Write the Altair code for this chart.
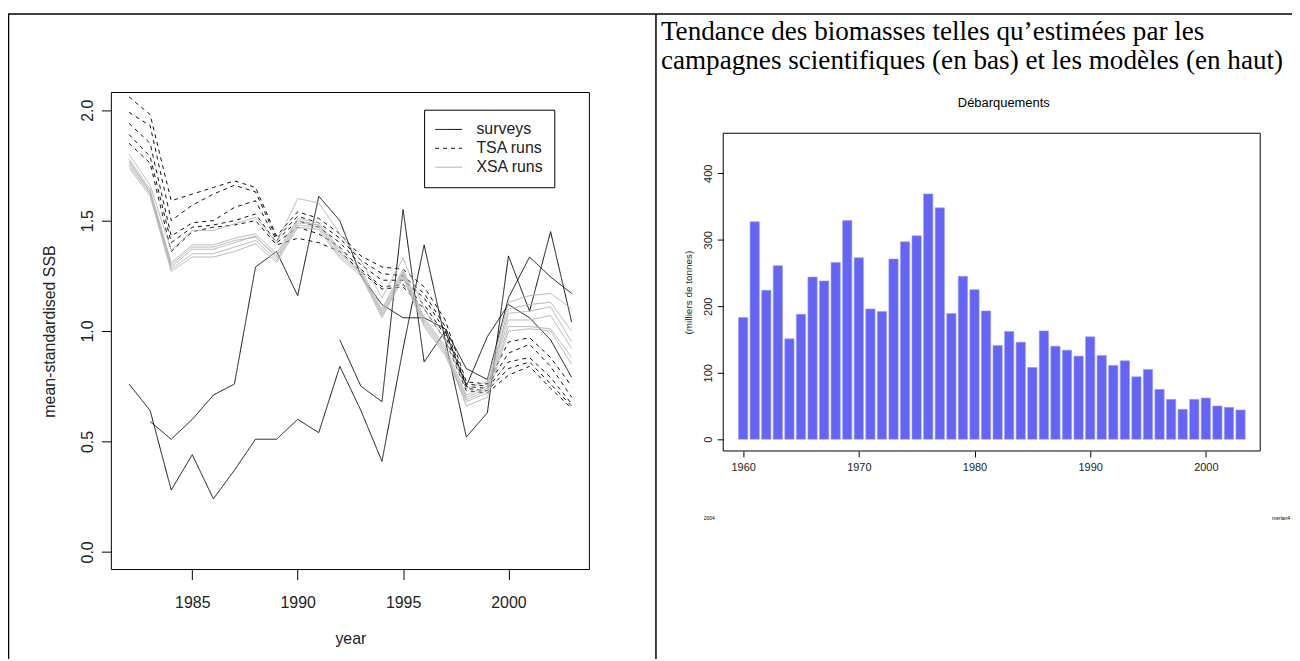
import altair as alt
import pandas as pd

# ---------------- data: left panel (mean-standardised SSB) ----------------
years = list(range(1982, 2004))

survey_1 = [0.76, 0.64, 0.28, 0.44, 0.24, 0.37, 0.51, 0.51, 0.60, 0.54, 0.84,
            0.64, 0.41, 0.92, 1.39, 0.96, 0.52, 0.63, 1.34, 1.09, 1.45, 1.04]
survey_2 = [None, 0.59, 0.51, 0.60, 0.71, 0.76, 1.29, 1.36, 1.16, 1.61, 1.50,
            1.25, 1.12, 1.06, 1.06, 1.01, 0.83, 0.78, 1.15, 1.335, 1.245, 1.17]
survey_3 = [None, None, None, None, None, None, None, None, None, None, 0.96,
            0.75, 0.68, 1.55, 0.86, 1.00, 0.75, 0.975, 1.12, 1.06, 0.96, 0.79]

tsa_1 = [2.06, 1.98, 1.59, 1.62, 1.65, 1.68, 1.65, 1.43, 1.54, 1.51, 1.44,
         1.34, 1.29, 1.28, 1.20, 1.05, 0.77, 0.76, 0.95, 0.97, 0.88, 0.75]
tsa_2 = [1.99, 1.93, 1.50, 1.57, 1.62, 1.66, 1.63, 1.42, 1.52, 1.49, 1.42,
         1.32, 1.26, 1.25, 1.17, 1.02, 0.76, 0.75, 0.90, 0.94, 0.84, 0.70]
tsa_3 = [1.94, 1.85, 1.43, 1.49, 1.50, 1.56, 1.59, 1.41, 1.50, 1.47, 1.40,
         1.30, 1.23, 1.23, 1.15, 1.00, 0.75, 0.74, 0.86, 0.88, 0.79, 0.67]
tsa_4 = [1.89, 1.79, 1.40, 1.47, 1.48, 1.50, 1.53, 1.40, 1.47, 1.44, 1.38,
         1.28, 1.20, 1.21, 1.12, 0.98, 0.74, 0.73, 0.83, 0.86, 0.76, 0.66]
tsa_5 = [1.85, 1.76, 1.36, 1.45, 1.47, 1.48, 1.50, 1.39, 1.42, 1.40, 1.36,
         1.27, 1.19, 1.20, 1.10, 0.96, 0.73, 0.72, 0.80, 0.84, 0.74, 0.65]

xsa_1 = [1.80, 1.66, 1.365, 1.455, 1.455, 1.485, 1.515, 1.40, 1.60, 1.58, 1.44,
         1.32, 1.15, 1.33, 1.10, 0.96, 0.74, 0.77, 1.13, 1.16, 1.17, 1.10]
xsa_2 = [1.78, 1.64, 1.31, 1.39, 1.39, 1.42, 1.44, 1.35, 1.51, 1.49, 1.37,
         1.28, 1.10, 1.28, 1.06, 0.93, 0.71, 0.75, 1.10, 1.12, 1.13, 1.00]
xsa_3 = [1.76, 1.63, 1.29, 1.37, 1.37, 1.40, 1.43, 1.33, 1.49, 1.48, 1.35,
         1.27, 1.08, 1.26, 1.04, 0.91, 0.70, 0.74, 1.08, 1.09, 1.11, 0.95]
xsa_4 = [1.75, 1.62, 1.28, 1.35, 1.35, 1.38, 1.41, 1.32, 1.48, 1.47, 1.34,
         1.26, 1.07, 1.25, 1.03, 0.90, 0.69, 0.73, 1.05, 1.05, 1.07, 0.92]
xsa_5 = [1.74, 1.61, 1.27, 1.335, 1.335, 1.36, 1.395, 1.31, 1.47, 1.46, 1.33,
         1.25, 1.06, 1.24, 1.02, 0.89, 0.68, 0.72, 1.02, 1.02, 1.01, 0.88]
xsa_6 = [1.77, 1.63, 1.30, 1.38, 1.38, 1.41, 1.425, 1.34, 1.50, 1.48, 1.36,
         1.26, 1.09, 1.27, 1.05, 0.92, 0.66, 0.70, 1.00, 1.01, 1.00, 0.85]

series_kinds = ["surveys", "TSA runs", "XSA runs"]
runs = {
    ("surveys", "s1"): survey_1, ("surveys", "s2"): survey_2, ("surveys", "s3"): survey_3,
    ("TSA runs", "t1"): tsa_1, ("TSA runs", "t2"): tsa_2, ("TSA runs", "t3"): tsa_3,
    ("TSA runs", "t4"): tsa_4, ("TSA runs", "t5"): tsa_5,
    ("XSA runs", "x1"): xsa_1, ("XSA runs", "x2"): xsa_2, ("XSA runs", "x3"): xsa_3,
    ("XSA runs", "x4"): xsa_4, ("XSA runs", "x5"): xsa_5, ("XSA runs", "x6"): xsa_6,
}

# ---------------- data: right panel (landings) ----------------
bar_years = list(range(1960, 2004))
landings = [183, 327, 224, 261, 151, 188, 244, 238, 266, 329,
            273, 196, 192, 271, 297, 306, 369, 348, 189, 245,
            225, 193, 141, 162, 146, 108, 163, 140, 134, 125,
            154, 126, 111, 118, 94, 105, 75, 60, 45, 60,
            62, 50, 48, 44]

# ---------------- tables ----------------
rows = []
for (kind, run), vals in runs.items():
    for yr, v in zip(years, vals):
        if v is not None:
            rows.append({"year": yr, "value": v, "kind": kind, "run": run})
df_lines = pd.DataFrame(rows)
df_bars = pd.DataFrame({"year": bar_years, "landings": landings})

# ---------------- layout (pixels inside the canvas) ----------------
W, H = 1292, 653
LX_DOMAIN, LX_RANGE = [1981.16, 2003.84], [104, 585]
LY_DOMAIN, LY_RANGE = [-0.08, 2.08], [563, 83]
RX_DOMAIN, RX_RANGE = [1958.28, 2004.70], [719.7, 1260]
RY_DOMAIN, RY_RANGE = [-17.6, 460.2], [443.7, 124]

SANS = "Liberation Sans"
SERIF = "Liberation Serif"

# ---------------- left panel ----------------
lx = alt.Scale(domain=LX_DOMAIN, range=LX_RANGE, nice=False, zero=False)
ly = alt.Scale(domain=LY_DOMAIN, range=LY_RANGE, nice=False, zero=False)

lines = alt.Chart(df_lines).mark_line(strokeWidth=1).encode(
    x=alt.X("year:Q", scale=lx,
            axis=alt.Axis(orient="bottom", offset=LY_RANGE[0] - H, values=[1985, 1990, 1995, 2000],
                          format="d", domain=False, grid=False, tickSize=10, tickColor="black",
                          labelFontSize=16, labelPadding=15, labelColor="#222",
                          title="year", titleFontSize=16, titleFontWeight="normal",
                          titlePadding=20, titleColor="#222",
                          titleX=(LX_RANGE[0] + LX_RANGE[1]) / 2)),
    y=alt.Y("value:Q", scale=ly,
            axis=alt.Axis(orient="left", offset=-LX_RANGE[0], values=[0, 0.5, 1.0, 1.5, 2.0],
                          format=".1f", domain=False, grid=False, tickSize=10, tickColor="black",
                          labelFontSize=16, labelAngle=270, labelAlign="center",
                          labelBaseline="bottom", labelPadding=6, labelColor="#222",
                          title="mean-standardised SSB", titleFontSize=16,
                          titleFontWeight="normal", titlePadding=22, titleColor="#222",
                          titleY=(LY_RANGE[0] + LY_RANGE[1]) / 2)),
    color=alt.Color("kind:N", scale=alt.Scale(domain=series_kinds,
                                              range=["#111111", "#111111", "#b2b2b2"]),
                    legend=alt.Legend(title=None)),
    strokeDash=alt.StrokeDash("kind:N", scale=alt.Scale(domain=series_kinds,
                                                         range=[[1, 0], [4, 4], [1, 0]]),
                              legend=alt.Legend(title=None)),
    detail="run:N",
)

left_box = alt.Chart(pd.DataFrame({"x0": [LX_DOMAIN[0]], "x1": [LX_DOMAIN[1]],
                                   "y0": [LY_DOMAIN[0]], "y1": [LY_DOMAIN[1]]})).mark_rect(
    fillOpacity=0, stroke="black", strokeWidth=1).encode(
    x="x0:Q", x2="x1:Q", y="y0:Q", y2="y1:Q")

left = alt.layer(lines, left_box)

# ---------------- right panel ----------------
rx = alt.Scale(domain=RX_DOMAIN, range=RX_RANGE, nice=False, zero=False)
ry = alt.Scale(domain=RY_DOMAIN, range=RY_RANGE, nice=False, zero=False)

bars = alt.Chart(df_bars).transform_calculate(
    x0="datum.year - 0.4", x1="datum.year + 0.4"
).mark_rect(color="#6464f5", stroke="#9a9aff", strokeWidth=0.6).encode(
    x=alt.X("x0:Q", scale=rx,
            axis=alt.Axis(orient="bottom", offset=RY_RANGE[0] - H, values=[1960, 1970, 1980, 1990, 2000],
                          format="d", domain=False, grid=False, tickSize=6, tickColor="black",
                          labelFontSize=11, labelPadding=5, labelColor="#222", title=None)),
    x2="x1:Q",
    y=alt.Y("landings:Q", scale=ry,
            axis=alt.Axis(orient="left", offset=-RX_RANGE[0], values=[0, 100, 200, 300, 400],
                          format="d", domain=False, grid=False, tickSize=6, tickColor="black",
                          labelFontSize=11, labelAngle=270, labelAlign="center",
                          labelBaseline="bottom", labelPadding=4, labelColor="#222",
                          title="(milliers de tonnes)", titleFontSize=10,
                          titleFontWeight="normal", titlePadding=9, titleColor="#222",
                          titleY=(RY_RANGE[0] + RY_RANGE[1]) / 2)),
    y2=alt.datum(0),
)

right_box = alt.Chart(pd.DataFrame({"x0": [RX_DOMAIN[0]], "x1": [RX_DOMAIN[1]],
                                    "y0": [RY_DOMAIN[0]], "y1": [RY_DOMAIN[1]]})).mark_rect(
    fillOpacity=0, stroke="black", strokeWidth=1).encode(
    x="x0:Q", x2="x1:Q", y="y0:Q", y2="y1:Q")

right = alt.layer(bars, right_box)

# ---------------- decorations: table borders and texts ----------------
frame_h = alt.Chart().mark_rule(color="black", strokeWidth=1.5).encode(
    x=alt.value(0), x2=alt.value(W), y=alt.value(4))
frame_l = alt.Chart().mark_rule(color="black", strokeWidth=1.5).encode(
    x=alt.value(0.5), y=alt.value(4), y2=alt.value(H))
frame_m = alt.Chart().mark_rule(color="black", strokeWidth=1.5).encode(
    x=alt.value(652), y=alt.value(4), y2=alt.value(H))

heading = alt.Chart().mark_text(
    text=["Tendance des biomasses telles qu\u2019estimées par les",
          "campagnes scientifiques (en bas) et les modèles (en haut)"],
    font=SERIF, fontSize=27.3, align="left", baseline="middle", lineHeight=29.5, color="black"
).encode(x=alt.value(657), y=alt.value(22))

bar_title = alt.Chart().mark_text(text="Débarquements", font=SANS, fontSize=13,
                                  align="center", baseline="middle", color="black").encode(
    x=alt.value(1002), y=alt.value(94))
foot_l = alt.Chart().mark_text(text="2004", font=SANS, fontSize=5, align="left",
                               baseline="middle", color="black").encode(
    x=alt.value(700), y=alt.value(511))
foot_r = alt.Chart().mark_text(text="merlan4", font=SANS, fontSize=5, align="right",
                               baseline="middle", color="black").encode(
    x=alt.value(W - 2), y=alt.value(511))

deco = alt.layer(frame_h, frame_l, frame_m, heading, bar_title, foot_l, foot_r)

chart = alt.layer(left, right, deco).resolve_scale(
    x="independent", y="independent"
).properties(
    width=W, height=H, autosize=alt.AutoSizeParams(type="none"), padding=0
).configure_view(
    strokeWidth=0
).configure_axis(
    labelFont=SANS, titleFont=SANS
).configure_legend(
    orient="none", legendX=418.7, legendY=100.3, strokeColor="black", fillColor="white",
    padding=10.6, symbolType="stroke", symbolSize=729, symbolStrokeWidth=1,
    labelFont=SANS, labelFontSize=16, labelOffset=14, labelColor="#222",
    clipHeight=18.5, rowPadding=0, cornerRadius=0
)

chart.save("out.html", embed_options={"renderer": "svg", "actions": False})
